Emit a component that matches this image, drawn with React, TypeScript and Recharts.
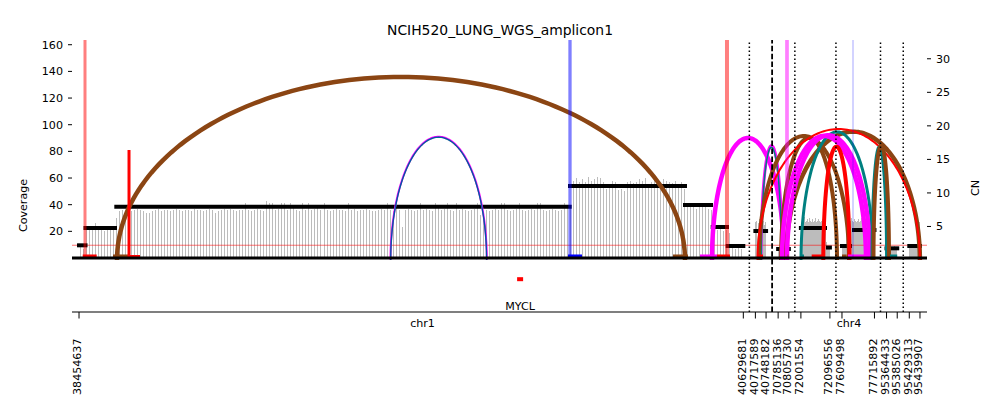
import React from 'react';
import { ComposedChart, Line, Scatter, XAxis, YAxis } from 'recharts';

const FONT = 'DejaVu Sans';
const TITLE = 'NCIH520_LUNG_WGS_amplicon1';

// ---------- amplicon intervals ----------
const intervalChrom = ['chr1', 'chr1', 'chr4', 'chr4', 'chr4', 'chr4', 'chr4'];
const intervalStart = [38454637, 40717589, 70785136, 72001554, 77609498, 95364433, 95429313];
const intervalEnd = [40629681, 40748182, 70805730, 72096556, 77715892, 95385026, 95439907];

// ---------- coverage windows (per interval, in order) ----------
const coverageI1 = [
  8, 7, 21, 22, 21, 26, 21, 22, 20, 21,
  22, 21, 30, 35, 36, 35, 36, 35, 36, 37,
  36, 35, 34, 34, 35, 36, 37, 35, 36, 36,
  35, 36, 37, 36, 35, 36, 36, 35, 37, 36,
  36, 35, 36, 37, 36, 34, 35, 36, 37, 36,
  37, 36, 35, 36, 36, 41, 36, 35, 36, 37,
  36, 35, 43, 41, 41, 36, 37, 41, 41, 36,
  41, 40, 36, 35, 41, 36, 41, 36, 37, 40,
  36, 41, 36, 35, 36, 37, 36, 36, 35, 41,
  36, 37, 35, 36, 36, 37, 36, 35, 35, 36,
  37, 36, 41, 36, 35, 40, 36, 23, 36, 37,
  36, 35, 36, 41, 36, 37, 36, 35, 41, 40,
  36, 37, 41, 36, 35, 41, 36, 37, 36, 35,
  36, 37, 41, 32, 32, 36, 35, 36, 37, 36,
  41, 41, 36, 35, 36, 37, 41, 36, 35, 36,
  37, 36, 41, 41, 36, 35, 36, 37, 36, 35,
  36, 41, 40, 38,
  58, 60, 57, 59, 57, 61, 58, 59, 61, 60, 57, 52, 55, 58, 57, 51, 52, 50, 57,
  58, 56, 57, 59, 58, 60, 55, 57, 60, 58, 57, 59, 58, 57, 56, 58, 55, 57, 52,
  38, 41, 38, 37, 39, 41, 38, 37, 36, 37,
  21, 22, 20, 21, 19,
  8, 7, 8, 7,
];
const coverageI2 = [27, 28, 26, 29, 27, 30, 27, 28, 25, 27];
const coverageI3 = [6, 7, 5, 8, 6, 7, 6, 5, 7, 6, 8];
const coverageI4 = [
  26, 27, 28, 31, 27, 28, 29, 27, 30, 28,
  27, 29, 28, 27, 28, 30, 27, 28, 29, 28,
  27, 28, 29, 28, 27, 26, 12, 9, 8, 9,
];
const coverageI5 = [
  9, 8, 9, 10,
  27, 28, 29, 27, 28, 30, 28, 27, 29, 28,
  27, 28, 29, 27, 28, 30, 27, 28, 29, 28,
  27, 28, 29, 27, 28, 27, 28, 29, 27,
];
const coverageI6 = [8, 9, 7, 8, 9, 8, 7, 8, 9, 8, 7, 8];
const coverageI7 = [9, 10, 9, 8, 10, 9, 9, 10, 9, 10, 27];
const coverageByInterval = [coverageI1, coverageI2, coverageI3, coverageI4, coverageI5, coverageI6, coverageI7];

// ---------- copy-number segments ----------
const segStart = [38454637, 38475800, 38576700, 40062200, 40438700, 40529400, 40578500, 40717589, 70785136, 72001554, 72090300, 77609498, 77648900, 95364433, 95429313];
const segEnd = [38475800, 38572400, 40061200, 40438700, 40523800, 40576200, 40629681, 40748182, 70805730, 72080500, 72096556, 77635800, 77715892, 95385026, 95439907];
const segCN = [2.19, 4.77, 7.95, 11.03, 8.2, 4.92, 2.09, 4.32, 1.64, 4.77, 1.86, 2.09, 4.47, 1.74, 2.09];

// ---------- breakpoint edges (arcs) ----------
const arcFrom = [38579000, 39474500, 39475300, 39474900, 40527100, 40733700, 40734600, 40727900, 70790700, 70800300, 72001900, 70792600, 70802200, 40723700, 72074900, 77707800, 77712700];
const arcTo = [40438700, 39789800, 39789000, 39789400, 70796400, 70792600, 70791600, 77632500, 75340900, 95439800, 77711100, 77688200, 77701300, 95439800, 77634200, 95364500, 95369200];
const arcHeight = [27.28, 18.38, 18.3, 18.34, 18.19, 17.04, 16.8, 18.49, 18.19, 19.13, 19.1, 18.5, 18.6, 19.53, 16.9, 16.85, 17.07];
const arcType = [
  'duplication', 'inversionNeg', 'inversionPos', 'interchromosomal', 'inversionNeg', 'inversionNeg', 'inversionPos',
  'duplication', 'duplication', 'duplication', 'inversionPos', 'inversionNeg', 'inversionNeg', 'deletion', 'deletion',
  'inversionPos', 'duplication',
];

// ---------- source edges (vertical lines) ----------
const srcPos = [38474200, 38618300, 40062200, 40576200, 70802200, 77645600];
const srcHeight = [40, 16.4, 40, 40, 40, 40];
const srcType = ['deletion', 'deletion', 'interchromosomal', 'deletion', 'inversionNeg', 'interchromosomal'];

// ---------- edge feet on the baseline ----------
const footFrom = [38466700, 38565900, 38615000, 40055600, 40399400, 40487800, 40543500, 40725100, 70802200, 72001554, 72036900, 77609498, 77629200, 95371100];
const footTo = [38512500, 38615000, 38654300, 40101500, 40448500, 40543500, 40586100, 40739400, 70805700, 72011700, 72074900, 77625000, 77684900, 95385026];
const footType = ['deletion', 'duplication', 'deletion', 'interchromosomal', 'duplication', 'inversionNeg', 'deletion', 'deletion', 'duplication', 'inversionPos', 'deletion', 'duplication', 'inversionNeg', 'inversionPos'];

// ---------- genes ----------
const geneName = ['MYCL'];
const geneStart = [39895425];
const geneEnd = [39902256];

// ---------- axis ticks ----------
const coverageTicks = [20, 40, 60, 80, 100, 120, 140, 160];
const cnTicks = [5, 10, 15, 20, 25, 30];
const CN_NORMAL = 2.2;

// ---------- styles / layout ----------
const EDGE_COLOR: Record<string, string> = {
  deletion: '#ff0000',
  duplication: '#8b4513',
  inversionPos: '#008080',
  inversionNeg: '#ff00ff',
  interchromosomal: '#0000ff',
};
const arcStroke = [4.5, 2.0, 1.3, 0.9, 4.5, 3, 1.5, 4, 4, 4.5, 3, 4.5, 4.5, 2, 4, 3, 4];
const arcOpacity = [1, 1, 1, 0.45, 1, 1, 1, 1, 1, 1, 1, 1, 1, 1, 1, 1, 1];
const srcOpacity = [0.5, 1, 0.5, 0.5, 0.5, 0.35];
const srcStroke = [3, 3, 3.3, 4, 3.7, 1];
const footStroke = [3, 3, 2, 3, 3, 3, 3, 3, 3, 3, 3, 3, 3, 3];

const EDGE_PAD = 23000;
const GAP = 39500;
const MIN_W = 35000;
const COV_DOMAIN: [number, number] = [-40.51, 163.55];
const CN_DOMAIN: [number, number] = [-7.752, 32.8];
const GENE_ROW_CN = -2.86;

const dispW = intervalStart.map((s, i) => Math.max(intervalEnd[i] - s, MIN_W));
const dispStart: number[] = [];
let acc = EDGE_PAD;
for (let i = 0; i < intervalStart.length; i++) {
  dispStart.push(acc);
  acc += dispW[i] + (i < intervalStart.length - 1 ? GAP : 0);
}
const TOTAL = acc + EDGE_PAD;

function toX(pos: number): number {
  const n = intervalStart.length;
  for (let i = 0; i < n; i++) {
    if (pos >= intervalStart[i] && pos <= intervalEnd[i]) {
      return dispStart[i] + ((pos - intervalStart[i]) / (intervalEnd[i] - intervalStart[i])) * dispW[i];
    }
  }
  for (let i = 0; i < n - 1; i++) {
    if (pos > intervalEnd[i] && pos < intervalStart[i + 1]) {
      const a = dispStart[i] + dispW[i];
      return a + ((pos - intervalEnd[i]) / (intervalStart[i + 1] - intervalEnd[i])) * GAP;
    }
  }
  return pos < intervalStart[0] ? 0 : TOTAL;
}

// coverage drawn as a comb: each window is a spike up from the baseline
const coverageComb = coverageByInterval.flatMap((vals, i) => {
  const s = intervalStart[i];
  const e = intervalEnd[i];
  const n = vals.length;
  return vals.flatMap((v, k) => {
    const x = toX(s + ((k + 0.5) * (e - s)) / n);
    return [
      { x, y: 0 },
      { x, y: v },
      { x, y: 0 },
    ];
  });
});

function arcPoints(a: number, b: number, h: number) {
  const x1 = toX(a);
  const x2 = toX(b);
  const c = (x1 + x2) / 2;
  const r = (x2 - x1) / 2;
  const pts: { x: number; y: number }[] = [];
  const n = 120;
  for (let k = 0; k <= n; k++) {
    const t = Math.PI * (1 - k / n);
    pts.push({ x: c + r * Math.cos(t), y: h * Math.sin(t) });
  }
  return pts;
}

type TickItem = { x: number; label: string; kind: 'pos' | 'chrom' };
const tickItems: TickItem[] = [];
intervalStart.forEach((s, i) => {
  tickItems.push({ x: toX(s), label: String(s), kind: 'pos' });
  tickItems.push({ x: toX(intervalEnd[i]), label: String(intervalEnd[i]), kind: 'pos' });
});
const chroms = Array.from(new Set(intervalChrom));
chroms.forEach((c) => {
  const idx = intervalChrom.map((cc, i) => (cc === c ? i : -1)).filter((i) => i >= 0);
  const a = toX(intervalStart[idx[0]]);
  const b = toX(intervalEnd[idx[idx.length - 1]]);
  tickItems.push({ x: (a + b) / 2, label: c, kind: 'chrom' });
});
tickItems.sort((p, q) => p.x - q.x);
const tickXs = tickItems.map((t) => t.x);

const separators = intervalStart.slice(0, -1).map((_, i) => ({
  x: dispStart[i] + dispW[i] + GAP / 2,
  chromBreak: intervalChrom[i] !== intervalChrom[i + 1],
}));

const geneData = geneName.map((g, i) => ({ x: toX((geneStart[i] + geneEnd[i]) / 2), y: GENE_ROW_CN, name: g }));

function BottomTick(props: any) {
  const { x, y, payload } = props;
  const item = tickItems.find((t) => Math.abs(t.x - payload.value) < 1e-6);
  if (!item) return null;
  if (item.kind === 'chrom') {
    return (
      <text x={x} y={y + 14.5} textAnchor="middle" fontSize={11.1} fontFamily={FONT} fill="#000">
        {item.label}
      </text>
    );
  }
  const ty = y + 26.5;
  return (
    <g>
      <line x1={x} y1={y} x2={x} y2={y + 6.5} stroke="#000" strokeWidth={1} />
      <text
        x={x}
        y={ty}
        transform={`rotate(-90 ${x} ${ty})`}
        textAnchor="end"
        dy="0.22em"
        fontSize={11.1}
        fontFamily={FONT}
        fill="#000"
      >
        {item.label}
      </text>
    </g>
  );
}

function GeneShape(props: any) {
  const { cx, cy, payload } = props;
  return (
    <g>
      <rect x={cx - 3} y={cy - 2} width={6} height={4} fill="#ff0000" />
      <text x={cx} y={cy + 31} textAnchor="middle" fontSize={11.1} fontFamily={FONT} fill="#000">
        {payload.name}
      </text>
    </g>
  );
}

const lineCommon = {
  dataKey: 'y',
  dot: false,
  activeDot: false,
  isAnimationActive: false,
  legendType: 'none' as const,
};

export default function App() {
  return (
    <div style={{ position: 'absolute', left: 0, top: 0, width: 1000, height: 416, background: '#fff' }}>
      <ComposedChart width={1000} height={416} margin={{ top: 40, right: 13, bottom: 14, left: 12 }}>
        <XAxis
          dataKey="x"
          type="number"
          domain={[0, TOTAL]}
          allowDataOverflow
          ticks={tickXs}
          interval={0}
          tickLine={false}
          tickSize={0}
          tickMargin={0}
          axisLine={{ stroke: '#000', strokeWidth: 1.2 }}
          tick={<BottomTick />}
          height={90}
        />
        <YAxis
          yAxisId="cov"
          orientation="left"
          type="number"
          domain={COV_DOMAIN}
          allowDataOverflow
          ticks={coverageTicks}
          interval={0}
          axisLine={false}
          tickSize={4}
          tickMargin={5}
          tickLine={{ stroke: '#000' }}
          tick={{ fill: '#000', fontSize: 11.1, fontFamily: FONT }}
          width={60}
        />
        <YAxis
          yAxisId="cn"
          orientation="right"
          type="number"
          domain={CN_DOMAIN}
          allowDataOverflow
          ticks={cnTicks}
          interval={0}
          axisLine={false}
          tickSize={4}
          tickMargin={5}
          tickLine={{ stroke: '#000' }}
          tick={{ fill: '#000', fontSize: 11.1, fontFamily: FONT }}
          width={60}
        />

        <Line
          {...lineCommon}
          yAxisId="cov"
          type="linear"
          data={coverageComb}
          stroke="#bcbcbc"
          strokeWidth={1}
          shapeRendering="crispEdges"
        />

        <Line
          {...lineCommon}
          yAxisId="cn"
          data={[{ x: 0, y: CN_NORMAL }, { x: TOTAL, y: CN_NORMAL }]}
          stroke="#ff0000"
          strokeOpacity={0.55}
          strokeWidth={1}
        />

        {segStart.map((s, i) => (
          <Line
            key={`seg${i}`}
            {...lineCommon}
            yAxisId="cn"
            data={[{ x: toX(s), y: segCN[i] }, { x: toX(segEnd[i]), y: segCN[i] }]}
            stroke="#000"
            strokeWidth={4}
            strokeLinecap="square"
          />
        ))}

        {arcFrom.map((a, i) => (
          <Line
            key={`arc${i}`}
            {...lineCommon}
            yAxisId="cn"
            type="linear"
            data={arcPoints(a, arcTo[i], arcHeight[i])}
            stroke={EDGE_COLOR[arcType[i]]}
            strokeOpacity={arcOpacity[i]}
            strokeWidth={arcStroke[i]}
          />
        ))}

        {footFrom.map((a, i) => (
          <Line
            key={`foot${i}`}
            {...lineCommon}
            yAxisId="cn"
            data={[{ x: toX(a), y: 0.6 }, { x: toX(footTo[i]), y: 0.6 }]}
            stroke={EDGE_COLOR[footType[i]]}
            strokeWidth={footStroke[i]}
          />
        ))}

        {srcPos.map((p, i) => (
          <Line
            key={`src${i}`}
            {...lineCommon}
            yAxisId="cn"
            data={[{ x: toX(p), y: 0.3 }, { x: toX(p), y: srcHeight[i] }]}
            stroke={EDGE_COLOR[srcType[i]]}
            strokeOpacity={srcOpacity[i]}
            strokeWidth={srcStroke[i]}
          />
        ))}

        <Line
          {...lineCommon}
          yAxisId="cov"
          data={[{ x: 0, y: 0 }, { x: TOTAL, y: 0 }]}
          stroke="#000"
          strokeWidth={3}
        />

        {separators.map((s, i) => (
          <Line
            key={`sep${i}`}
            {...lineCommon}
            yAxisId="cn"
            data={[{ x: s.x, y: CN_DOMAIN[0] }, { x: s.x, y: CN_DOMAIN[1] }]}
            stroke="#000"
            strokeWidth={s.chromBreak ? 1.8 : 1.5}
            strokeDasharray={s.chromBreak ? '5.5 2.4' : '1.5 2.5'}
          />
        ))}

        <Scatter
          yAxisId="cn"
          data={geneData}
          dataKey="y"
          shape={<GeneShape />}
          isAnimationActive={false}
          legendType="none"
        />
      </ComposedChart>
      <svg width={1000} height={416} style={{ position: 'absolute', left: 0, top: 0, pointerEvents: 'none' }}>
        <text x={500} y={34.5} textAnchor="middle" fontSize={13.9} fontFamily={FONT} fill="#000">
          {TITLE}
        </text>
        <text
          x={23.5}
          y={205.5}
          transform="rotate(-90 23.5 205.5)"
          textAnchor="middle"
          dy="0.35em"
          fontSize={11.1}
          fontFamily={FONT}
          fill="#000"
        >
          Coverage
        </text>
        <text
          x={975.5}
          y={188}
          transform="rotate(-90 975.5 188)"
          textAnchor="middle"
          dy="0.35em"
          fontSize={11.1}
          fontFamily={FONT}
          fill="#000"
        >
          CN
        </text>
      </svg>
    </div>
  );
}
